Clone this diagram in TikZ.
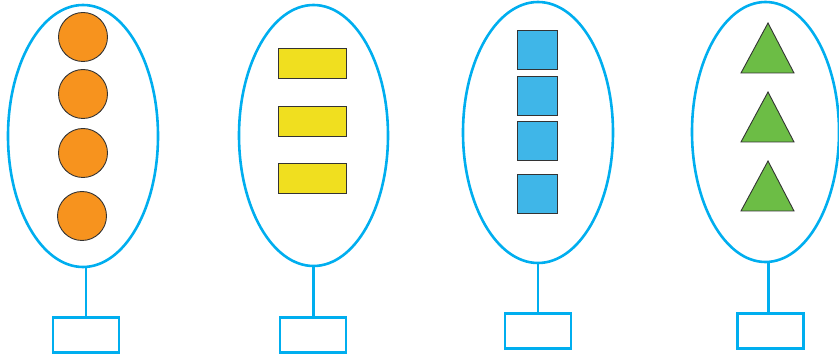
\documentclass[tikz,border=0pt]{standalone}
\usetikzlibrary{shapes.geometric}
\definecolor{cyanline}{HTML}{00AEEF}
\definecolor{orangefill}{HTML}{F7931E}
\definecolor{yellowfill}{HTML}{F0DF1F}
\definecolor{bluefill}{HTML}{3FB6E8}
\definecolor{greenfill}{HTML}{6CBD45}
\definecolor{outl}{HTML}{333333}
\tikzset{
  oval/.style={draw=cyanline, line width=2.6pt, ellipse, inner sep=0pt},
  stem/.style={draw=cyanline, line width=2.6pt},
  answerbox/.style={draw=cyanline, line width=2.6pt, rectangle, inner sep=0pt, minimum width=66pt, minimum height=35pt},
  ball/.style={circle, draw=outl, line width=0.9pt, fill=orangefill, minimum size=49pt, inner sep=0pt},
  bar/.style={rectangle, draw=outl, line width=0.9pt, fill=yellowfill, minimum width=68pt, minimum height=30pt, inner sep=0pt},
  sq/.style={rectangle, draw=outl, line width=0.9pt, fill=bluefill, minimum width=40pt, minimum height=39pt, inner sep=0pt},
  tri/.style={draw=outl, line width=0.9pt, fill=greenfill, line join=miter}
}
\begin{document}
\begin{tikzpicture}[x=1pt,y=-1pt]
\useasboundingbox (0,0) rectangle (839,358);
% group 1
\node[oval, minimum width=150pt, minimum height=262pt] (e1) at (83,136) {};
\node[ball] (c1) at (83,37) {};
\node[ball] (c2) at (83,94) {};
\node[ball] (c3) at (83,153) {};
\node[ball] (c4) at (82,216) {};
\node[answerbox] (b1) at (86,335) {};
\draw[stem] (e1.south) ++(3,0) coordinate (s1) (s1) -- (s1 |- b1.north);
% group 2
\node[oval, minimum width=149pt, minimum height=261pt] (e2) at (313.5,135.5) {};
\node[bar] (r1) at (312,63) {};
\node[bar] (r2) at (312,121) {};
\node[bar] (r3) at (312,178.5) {};
\node[answerbox] (b2) at (313,335) {};
\draw[stem] (e2.south) -- (e2.south |- b2.north);
% group 3
\node[oval, minimum width=150pt, minimum height=261pt] (e3) at (538,132.5) {};
\node[sq] (q1) at (537,49.5) {};
\node[sq] (q2) at (537,95.5) {};
\node[sq] (q3) at (537,141) {};
\node[sq] (q4) at (537,193.5) {};
\node[answerbox] (b3) at (538,331) {};
\draw[stem] (e3.south) -- (e3.south |- b3.north);
% group 4
\node[oval, minimum width=147pt, minimum height=260pt] (e4) at (765.5,132) {};
\draw[tri] (768,23) -- (794,73) -- (741,73) -- cycle;
\draw[tri] (768,92) -- (794,142) -- (741,142) -- cycle;
\draw[tri] (768,161) -- (794,211) -- (741,211) -- cycle;
\node[answerbox] (b4) at (770.5,331) {};
\draw[stem] (e4.south) ++(3,0) coordinate (s4) (s4) -- (s4 |- b4.north);
\end{tikzpicture}
\end{document}
